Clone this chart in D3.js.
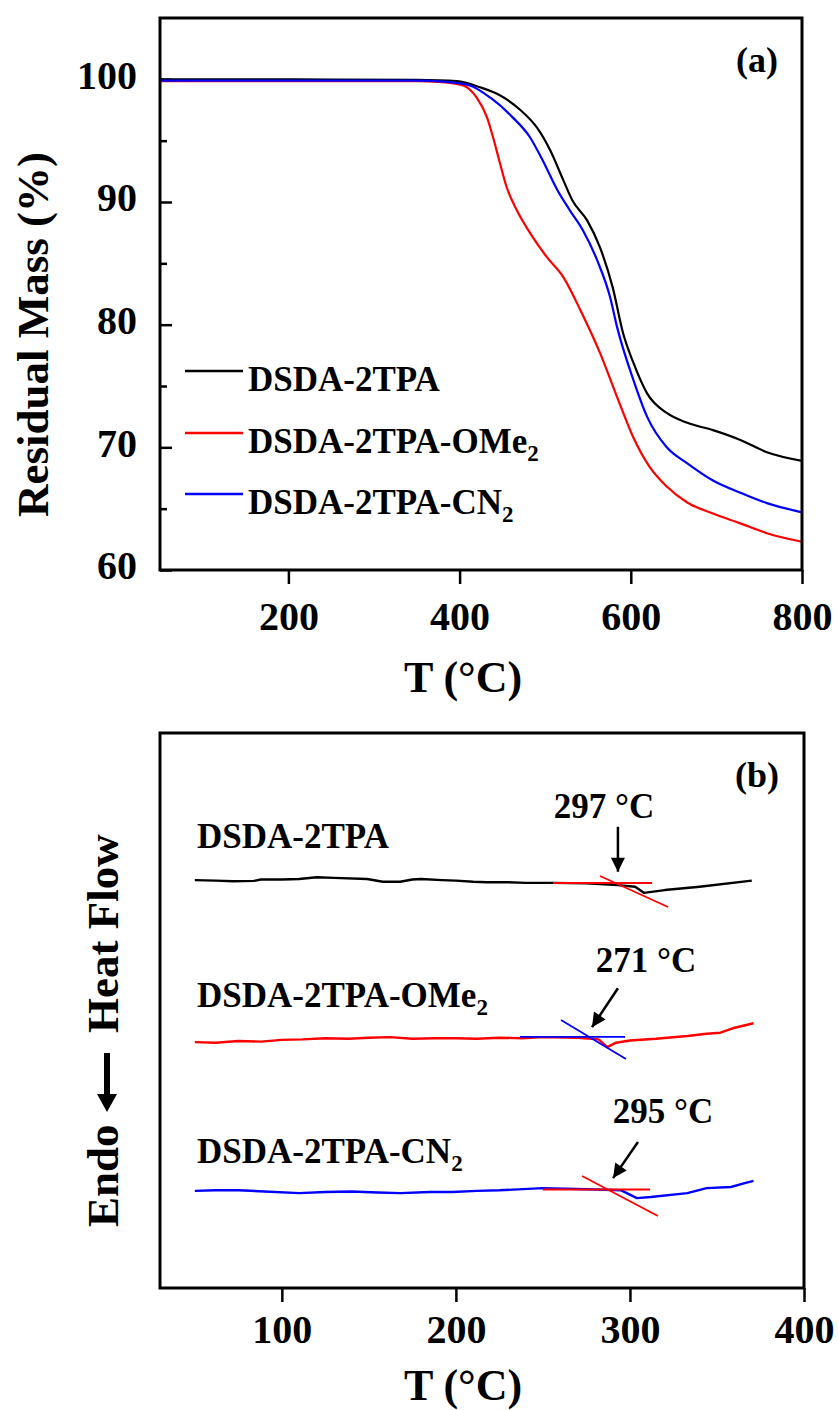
<!DOCTYPE html>
<html><head><meta charset="utf-8">
<script src="https://cdn.jsdelivr.net/npm/d3@7"></script>
<style>body{margin:0;background:#fff;} svg{display:block;}</style>
</head><body>
<svg id="chart" width="838" height="1410"></svg>
<script>
// ---------- Panel (a) TGA data ----------
const tgaTicksX = [200, 400, 600, 800];
const tgaTicksY = [60, 70, 80, 90, 100];
const tgaMinorY = [65, 75, 85, 95];
const seriesNames = ["DSDA-2TPA", "DSDA-2TPA-OMe", "DSDA-2TPA-CN"];
const seriesSubs = ["", "2", "2"];
const seriesColors = ["#000000", "#ff0000", "#0000ff"];

const blackT = [50, 150, 250, 350, 397, 424, 447, 471, 490, 506, 521, 532, 549, 564, 579, 591, 603, 619, 642, 666, 696, 728, 759, 800];
const blackMass = [100.0, 100.0, 99.98, 99.95, 99.85, 99.35, 98.7, 97.5, 96.1, 94.2, 91.8, 90.1, 88.5, 86.3, 83.0, 79.3, 76.9, 74.4, 72.8, 72.0, 71.4, 70.6, 69.6, 68.9];

const redT = [50, 150, 250, 350, 375, 404, 420, 432, 439, 447, 455, 467, 482, 502, 521, 541, 564, 584, 603, 622, 642, 666, 696, 728, 759, 800];
const redMass = [99.85, 99.85, 99.85, 99.85, 99.8, 99.5, 98.5, 96.9, 95.3, 93.2, 91.2, 89.3, 87.5, 85.5, 83.9, 81.2, 77.7, 74.1, 70.8, 68.4, 66.8, 65.5, 64.6, 63.8, 63.0, 62.3];

const blueT = [50, 150, 250, 350, 385, 412, 436, 462, 482, 497, 514, 529, 544, 561, 576, 584, 603, 619, 642, 666, 696, 728, 759, 800];
const blueMass = [99.9, 99.9, 99.9, 99.9, 99.8, 99.5, 98.5, 96.9, 95.3, 93.4, 91.0, 89.3, 87.7, 85.2, 82.2, 79.8, 75.5, 72.5, 70.0, 68.7, 67.3, 66.3, 65.45, 64.7];

// ---------- Panel (b) DSC data (arbitrary heat-flow units) ----------
const dscTicksX = [100, 200, 300, 400];

const dscBlackT = [50, 62, 72, 84, 88, 100, 110, 120, 130, 149, 158, 168, 175, 180, 192, 200, 210, 218, 230, 240, 256, 275, 293, 303, 308, 320, 340, 370];
const dscBlackHF = [73.5, 73.4, 73.3, 73.35, 73.6, 73.6, 73.7, 74.0, 73.9, 73.7, 73.2, 73.2, 73.6, 73.7, 73.5, 73.4, 73.2, 73.1, 73.1, 73.0, 73.0, 72.9, 72.6, 72.3, 71.2, 71.7, 72.3, 73.4];

const dscRedT = [50, 62, 75, 88, 100, 112, 125, 138, 150, 162, 175, 188, 200, 212, 225, 238, 250, 270, 282, 287, 292, 300, 315, 333, 344, 352, 359, 371];
const dscRedHF = [44.3, 44.2, 44.5, 44.4, 44.7, 44.8, 45.0, 44.9, 45.1, 45.2, 44.9, 45.0, 45.0, 44.9, 45.1, 45.0, 45.2, 45.1, 44.8, 43.4, 44.2, 44.6, 44.9, 45.4, 45.8, 46.0, 46.8, 47.7];

const dscBlueT = [50, 62, 75, 90, 110, 125, 140, 155, 168, 185, 198, 212, 225, 250, 275, 295, 304, 312, 333, 344, 358, 366, 371];
const dscBlueHF = [17.5, 17.6, 17.6, 17.4, 17.1, 17.3, 17.4, 17.2, 17.1, 17.3, 17.3, 17.5, 17.6, 18.0, 17.8, 17.6, 16.2, 16.4, 17.1, 18.0, 18.2, 18.9, 19.3];

// tangent construction lines [T1, HF1, T2, HF2]
const tangentBlack = [[255.8, 72.97, 312.7, 72.97], [282.8, 74.23, 321.9, 68.65]];
const tangentRed = [[236.8, 45.23, 297.2, 45.23], [260.4, 48.29, 297.7, 41.26]];
const tangentBlue = [[250, 17.75, 311.5, 17.75], [272.5, 20.18, 316.1, 12.97]];
const tangentColors = ["#ff0000", "#0000ff", "#ff0000"];

// Tg annotations
const tgLabels = ["297 °C", "271 °C", "295 °C"];
const tgLabelPos = [[285.1, 84.7], [309.2, 56.9], [319, 29.7]];
const tgArrows = [[293.1, 83.1, 293.1, 75.0], [293.1, 54.0, 278.2, 47.0], [304.6, 26.3, 290.3, 19.8]];
const dscLabelPos = [[51.3, 79.3], [51.3, 50.6], [51.3, 22.5]];

// ---------- drawing ----------
const FONT = "'Times New Roman', 'Liberation Serif', serif";
const svg = d3.select("#chart");
const defs = svg.append("defs");
defs.append("marker").attr("id", "ah").attr("markerUnits", "userSpaceOnUse")
  .attr("viewBox", "0 0 10 10").attr("refX", 10).attr("refY", 5)
  .attr("markerWidth", 15).attr("markerHeight", 14).attr("orient", "auto")
  .append("path").attr("d", "M0,0 L10,5 L0,10 z").attr("fill", "#000");

function boldText(g, x, y, txt, size, anchor) {
  return g.append("text").attr("x", x).attr("y", y).text(txt)
    .attr("font-family", FONT).attr("font-weight", "bold").attr("font-size", size)
    .attr("text-anchor", anchor || "start").attr("fill", "#000");
}
function styleAxis(g, size) {
  g.select(".domain").remove();
  g.selectAll("line").attr("stroke", "#000").attr("stroke-width", 2.5);
  g.selectAll("text").attr("font-family", FONT).attr("font-weight", "bold")
    .attr("font-size", size).attr("fill", "#000");
}

// ===== Panel (a) =====
const A = {l: 160, r: 802, t: 18, b: 570};
const xA = d3.scaleLinear().domain([50, 800]).range([A.l, A.r]);
const yA = d3.scaleLinear().domain([60, 105]).range([A.b, A.t]);

const gxA = svg.append("g").attr("transform", `translate(0,${A.b})`)
  .call(d3.axisBottom(xA).tickValues(tgaTicksX).tickSize(14).tickSizeOuter(0));
styleAxis(gxA, 40);
gxA.selectAll("text").attr("y", 60).attr("dy", 0);

const gyA = svg.append("g").attr("transform", `translate(${A.l},0)`)
  .call(d3.axisLeft(yA).tickValues(tgaTicksY).tickSizeInner(-12).tickSizeOuter(0).tickPadding(23));
styleAxis(gyA, 40);
gyA.selectAll("text").attr("dy", "0.22em");
const gyAm = svg.append("g").attr("transform", `translate(${A.l},0)`)
  .call(d3.axisLeft(yA).tickValues(tgaMinorY).tickSizeInner(-7).tickSizeOuter(0).tickFormat(""));
styleAxis(gyAm, 40);

const lineA = d3.line().x(d => xA(d[0])).y(d => yA(d[1])).curve(d3.curveMonotoneX);
const tgaSeries = [d3.zip(blackT, blackMass), d3.zip(redT, redMass), d3.zip(blueT, blueMass)];
tgaSeries.forEach((s, i) => {
  svg.append("path").datum(s).attr("d", lineA).attr("fill", "none")
    .attr("stroke", seriesColors[i]).attr("stroke-width", 2.2);
});
svg.append("rect").attr("x", A.l).attr("y", A.t).attr("width", A.r - A.l).attr("height", A.b - A.t)
  .attr("fill", "none").attr("stroke", "#000").attr("stroke-width", 3);

// legend (a)
const legY = [371, 433, 494];
seriesNames.forEach((n, i) => {
  svg.append("line").attr("x1", 185).attr("x2", 243).attr("y1", legY[i]).attr("y2", legY[i])
    .attr("stroke", seriesColors[i]).attr("stroke-width", 2.5);
  const t = boldText(svg, 248, legY[i] + 20, n, 35);
  if (seriesSubs[i]) t.append("tspan").attr("font-size", 23).attr("dy", 8).text(seriesSubs[i]);
});
boldText(svg, 757, 72, "(a)", 36, "middle");
boldText(svg, 463, 692, "T (°C)", 44, "middle");
boldText(svg, 0, 0, "Residual Mass (%)", 45).attr("transform", "translate(48,517) rotate(-90)");

// ===== Panel (b) =====
const B = {l: 160, r: 804, t: 733, b: 1288};
const xB = d3.scaleLinear().domain([30, 400]).range([B.l, B.r]);
const yB = d3.scaleLinear().domain([0, 100]).range([B.b, B.t]);

const gxB = svg.append("g").attr("transform", `translate(0,${B.b})`)
  .call(d3.axisBottom(xB).tickValues(dscTicksX).tickSize(14).tickSizeOuter(0));
styleAxis(gxB, 40);
gxB.selectAll("text").attr("y", 55).attr("dy", 0);

const lineB = d3.line().x(d => xB(d[0])).y(d => yB(d[1]));
const dscSeries = [d3.zip(dscBlackT, dscBlackHF), d3.zip(dscRedT, dscRedHF), d3.zip(dscBlueT, dscBlueHF)];
dscSeries.forEach((s, i) => {
  svg.append("path").datum(s).attr("d", lineB).attr("fill", "none")
    .attr("stroke", seriesColors[i]).attr("stroke-width", 2.4).attr("stroke-linejoin", "round");
});
[tangentBlack, tangentRed, tangentBlue].forEach((tl, i) => {
  tl.forEach(t => {
    svg.append("line").attr("x1", xB(t[0])).attr("y1", yB(t[1])).attr("x2", xB(t[2])).attr("y2", yB(t[3]))
      .attr("stroke", tangentColors[i]).attr("stroke-width", 1.8);
  });
});
tgArrows.forEach(a => {
  svg.append("line").attr("x1", xB(a[0])).attr("y1", yB(a[1])).attr("x2", xB(a[2])).attr("y2", yB(a[3]))
    .attr("stroke", "#000").attr("stroke-width", 2.5).attr("marker-end", "url(#ah)");
});
tgLabels.forEach((t, i) => boldText(svg, xB(tgLabelPos[i][0]), yB(tgLabelPos[i][1]), t, 35, "middle"));
seriesNames.forEach((n, i) => {
  const t = boldText(svg, xB(dscLabelPos[i][0]), yB(dscLabelPos[i][1]), n, 35);
  if (seriesSubs[i]) t.append("tspan").attr("font-size", 23).attr("dy", 8).text(seriesSubs[i]);
});
svg.append("rect").attr("x", B.l).attr("y", B.t).attr("width", B.r - B.l).attr("height", B.b - B.t)
  .attr("fill", "none").attr("stroke", "#000").attr("stroke-width", 3);
boldText(svg, 757, 787, "(b)", 36, "middle");
boldText(svg, 463, 1400, "T (°C)", 44, "middle");

// y title (b): Endo <- Heat Flow
boldText(svg, 0, 0, "Endo", 45).attr("transform", "translate(118,1227) rotate(-90)");
boldText(svg, 0, 0, "Heat Flow", 45).attr("transform", "translate(118,1033) rotate(-90)");
svg.append("path").attr("d", "M104,1053 L110,1053 L110,1094 L117,1094 L107,1112 L97,1094 L104,1094 Z").attr("fill", "#000");
</script>
</body></html>
